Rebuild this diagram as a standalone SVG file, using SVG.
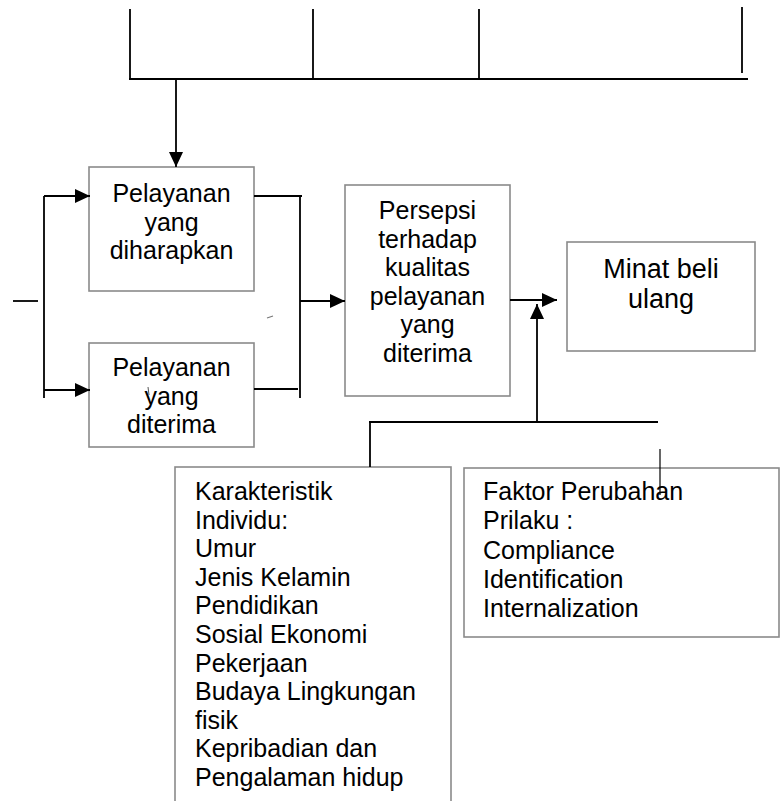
<svg xmlns="http://www.w3.org/2000/svg" width="780" height="801" viewBox="0 0 780 801">
  <style>
    .box { fill: #ffffff; stroke: #8a8a8a; stroke-width: 1.6; }
    .ln { fill: none; stroke: #000000; stroke-width: 1.8; }
    .thin { fill: none; stroke: #000000; stroke-width: 1.2; }
    .t { font-family: "Liberation Sans", Arial, sans-serif; font-size: 25px; fill: #000000; }
    .c { text-anchor: middle; }
    .big { font-size: 27px; }
  </style>
  <defs>
    <marker id="arrow" markerUnits="userSpaceOnUse" markerWidth="16" markerHeight="14" refX="15" refY="7" orient="auto">
      <path d="M0,0 L15,7 L0,14 Z" fill="#000000"/>
    </marker>
  </defs>
  <rect width="780" height="801" fill="#ffffff"/>

  <g id="node-expected">
    <rect class="box" x="89" y="167" width="165" height="124"/>
    <text class="t c" x="171.5" y="202">Pelayanan</text>
    <text class="t c" x="171.5" y="230.5">yang</text>
    <text class="t c" x="171.5" y="259">diharapkan</text>
  </g>

  <g id="node-received">
    <rect class="box" x="89" y="343" width="165" height="104"/>
    <text class="t c" x="171.5" y="376">Pelayanan</text>
    <text class="t c" x="171.5" y="404.5">yang</text>
    <text class="t c" x="171.5" y="433">diterima</text>
    <line x1="148" y1="387" x2="149" y2="395" stroke="#555555" stroke-width="1"/>
  </g>

  <g id="node-perception">
    <rect class="box" x="345" y="185" width="165" height="211"/>
    <text class="t c" x="427.5" y="219">Persepsi</text>
    <text class="t c" x="427.5" y="247.5">terhadap</text>
    <text class="t c" x="427.5" y="276">kualitas</text>
    <text class="t c" x="427.5" y="304.5">pelayanan</text>
    <text class="t c" x="427.5" y="333">yang</text>
    <text class="t c" x="427.5" y="361.5">diterima</text>
  </g>

  <g id="node-intention">
    <rect class="box" x="567" y="242" width="188" height="109"/>
    <text class="t c big" x="661" y="278">Minat beli</text>
    <text class="t c big" x="661" y="308">ulang</text>
  </g>

  <g id="node-individual">
    <rect class="box" x="175" y="467" width="276" height="340"/>
    <text class="t" x="195" y="500">Karakteristik</text>
    <text class="t" x="195" y="528.6">Individu:</text>
    <text class="t" x="195" y="557.2">Umur</text>
    <text class="t" x="195" y="585.8">Jenis Kelamin</text>
    <text class="t" x="195" y="614.4">Pendidikan</text>
    <text class="t" x="195" y="643">Sosial Ekonomi</text>
    <text class="t" x="195" y="671.6">Pekerjaan</text>
    <text class="t" x="195" y="700.2">Budaya Lingkungan</text>
    <text class="t" x="195" y="728.8">fisik</text>
    <text class="t" x="195" y="757.4">Kepribadian dan</text>
    <text class="t" x="195" y="786">Pengalaman hidup</text>
  </g>

  <g id="node-behaviour">
    <rect class="box" x="464" y="468" width="315" height="169"/>
    <text class="t" x="483" y="500">Faktor Perubahan</text>
    <text class="t" x="483" y="529.3">Prilaku :</text>
    <text class="t" x="483" y="558.6">Compliance</text>
    <text class="t" x="483" y="587.9">Identification</text>
    <text class="t" x="483" y="617.2">Internalization</text>
  </g>

  <!-- connectors, drawn last so they sit over the boxes -->
  <g id="connectors">
    <!-- top comb feeding the expected-service box -->
    <line class="ln" x1="130" y1="9" x2="130" y2="79"/>
    <line class="ln" x1="313" y1="9" x2="313" y2="79"/>
    <line class="ln" x1="479" y1="9" x2="479" y2="79"/>
    <line class="ln" x1="742" y1="7" x2="742" y2="73"/>
    <line class="ln" x1="129" y1="79" x2="748" y2="79"/>
    <line class="ln" x1="176" y1="79" x2="176" y2="167" marker-end="url(#arrow)"/>

    <!-- left split -->
    <line class="ln" x1="13" y1="301" x2="38" y2="301"/>
    <line class="ln" x1="44" y1="196" x2="44" y2="398"/>
    <line class="ln" x1="44" y1="196" x2="90" y2="196" marker-end="url(#arrow)"/>
    <line class="ln" x1="44" y1="390" x2="90" y2="390" marker-end="url(#arrow)"/>

    <!-- right merge -->
    <line class="ln" x1="254" y1="196" x2="302" y2="196"/>
    <line class="ln" x1="254" y1="389" x2="298" y2="389"/>
    <line class="ln" x1="300" y1="196" x2="300" y2="398"/>
    <line class="ln" x1="300" y1="301" x2="345" y2="301" marker-end="url(#arrow)"/>

    <!-- perception to repurchase intention -->
    <line class="ln" x1="510" y1="300" x2="557" y2="300" marker-end="url(#arrow)"/>

    <!-- moderating factors -->
    <line class="ln" x1="370" y1="467" x2="370" y2="422"/>
    <line class="ln" x1="369" y1="422" x2="658" y2="422"/>
    <line class="ln" x1="537" y1="422" x2="537" y2="304" marker-end="url(#arrow)"/>
    <line class="thin" x1="660" y1="449" x2="660" y2="495"/>

    <!-- stray marks -->
    <line x1="267" y1="318" x2="273" y2="316" stroke="#777777" stroke-width="1.2"/>
  </g>
</svg>
